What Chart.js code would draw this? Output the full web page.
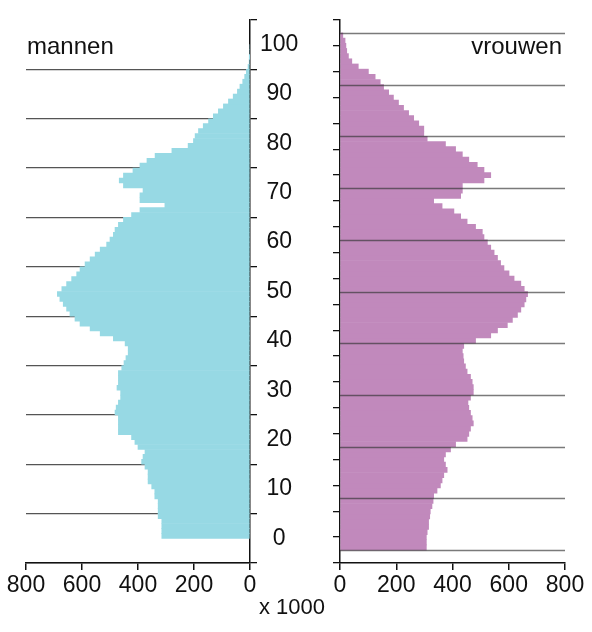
<!DOCTYPE html>
<html>
<head>
<meta charset="utf-8">
<script src="https://cdn.jsdelivr.net/npm/chart.js@4"></script>
<style>
  body { margin: 0; background: #fff; width: 592px; height: 632px; position: relative; overflow: hidden;
         font-family: "Liberation Sans", Arial, sans-serif; }
  #wrapM { position: absolute; left: 0; top: 0; width: 330px; height: 632px; }
  #wrapV { position: absolute; left: 330px; top: 0; width: 262px; height: 632px; }
  .lbl { position: absolute; font-size: 24px; color: #111; }
</style>
</head>
<body>
<div id="wrapM"><canvas id="mannenChart"></canvas></div>
<div id="wrapV"><canvas id="vrouwenChart"></canvas></div>
<div class="lbl" style="left:27px; top:32px;">mannen</div>
<div class="lbl" style="right:30px; top:32px;">vrouwen</div>
<div class="lbl" style="left:259px; top:594px; font-size:22px;">x 1000</div>
<script>
// leeftijd 0..99, aantallen x 1000
const ages = Array.from({ length: 100 }, (_, i) => i);
const mannen = [
    315, 315, 315, 315, 328, 328, 328, 328, 340, 340,
    351, 364, 364, 364, 375, 387, 382, 375, 400, 411,
    423, 470, 470, 470, 470, 482, 478, 470, 462, 462,
    475, 470, 470, 470, 458, 450, 443, 435, 435, 446,
    488, 535, 571, 607, 625, 643, 655, 667, 679, 688,
    672, 655, 637, 619, 607, 589, 571, 553, 535, 512,
    500, 488, 482, 470, 452, 423, 393, 304, 393, 393,
    382, 452, 467, 452, 418, 393, 368, 339, 279, 221,
    202, 196, 184, 167, 148, 131, 113, 95, 77, 60,
    45, 36, 26, 19, 13, 7, 3, 1, 0, 0
];
const vrouwen = [
    307, 307, 307, 310, 315, 315, 319, 321, 327, 331,
    333, 345, 357, 363, 369, 381, 375, 369, 375, 393,
    411, 452, 458, 464, 474, 470, 464, 458, 455, 464,
    474, 474, 470, 464, 452, 446, 440, 438, 435, 440,
    482, 536, 560, 595, 613, 631, 643, 655, 661, 667,
    655, 643, 619, 601, 583, 571, 560, 548, 536, 524,
    512, 506, 482, 452, 429, 405, 363, 333, 429, 435,
    435, 512, 536, 512, 488, 458, 435, 411, 375, 310,
    298, 298, 280, 262, 244, 226, 208, 190, 173, 155,
    143, 125, 101, 65, 42, 30, 24, 21, 18, 10
];
const xTicks = [0, 200, 400, 600, 800];

Chart.defaults.font.family = '"Liberation Sans", Arial, sans-serif';
Chart.defaults.color = '#111';

const toPoints = (vals) => vals.map((v, i) => ({ x: v, y: ages[i] + 0.5 }));

// horizontale lijnen over de balken heen (rechts)
const gridOnTop = {
    id: 'gridOnTop',
    afterDatasetsDraw(chart) {
        const { ctx, chartArea, scales } = chart;
        ctx.save();
        ctx.strokeStyle = 'rgba(50,50,50,0.65)';
        ctx.lineWidth = 1.3;
        for (let a = 0; a <= 100; a += 10) {
            const y = Math.round(scales.y.getPixelForValue(a)) + 0.5;
            ctx.beginPath();
            ctx.moveTo(chartArea.left, y);
            ctx.lineTo(chartArea.right, y);
            ctx.stroke();
        }
        ctx.restore();
    }
};

function makeChart(id, data, colour, left) {
    return new Chart(document.getElementById(id), {
        type: 'bar',
        data: {
            datasets: [{
                data: toPoints(data),
                backgroundColor: colour,
                borderWidth: 0,
                barPercentage: 1,
                categoryPercentage: 1
            }]
        },
        plugins: left ? [] : [gridOnTop],
        options: {
            indexAxis: 'y',
            responsive: true,
            maintainAspectRatio: false,
            animation: false,
            layout: { padding: left ? { top: 20, left: 26, right: 0 } : { top: 20, right: 27, left: 0 } },
            plugins: { legend: { display: false }, tooltip: { enabled: false } },
            scales: {
                x: {
                    type: 'linear',
                    reverse: left,
                    min: 0,
                    max: 800,
                    afterBuildTicks: (s) => { s.ticks = xTicks.map(v => ({ value: v })); },
                    ticks: { font: { size: 23 }, padding: 2, maxRotation: 0 },
                    grid: { drawOnChartArea: false, tickLength: 7, color: '#111', lineWidth: 1.5 },
                    border: { color: '#111', width: 1.5 },
                    afterFit: (s) => { s.height = 69; }
                },
                y: {
                    type: 'linear',
                    position: left ? 'right' : 'left',
                    min: 0,
                    max: 100,
                    ticks: {
                        stepSize: 5,
                        display: left,
                        font: { size: 23 },
                        crossAlign: 'center',
                        callback: (v) => v % 10 === 0 ? v : ''
                    },
                    grid: {
                        drawOnChartArea: left,
                        tickLength: 7,
                        tickColor: '#111',
                        lineWidth: 1.3,
                        color: (c) => c.tick && c.tick.value % 10 === 0 ? '#555' : 'transparent'
                    },
                    border: { color: '#111', width: 1.5 },
                    afterFit: (s) => { s.width = left ? 80 : 10; }
                }
            }
        }
    });
}

makeChart('mannenChart', mannen, '#97d9e4', true);
makeChart('vrouwenChart', vrouwen, '#c189bc', false);
</script>
</body>
</html>
